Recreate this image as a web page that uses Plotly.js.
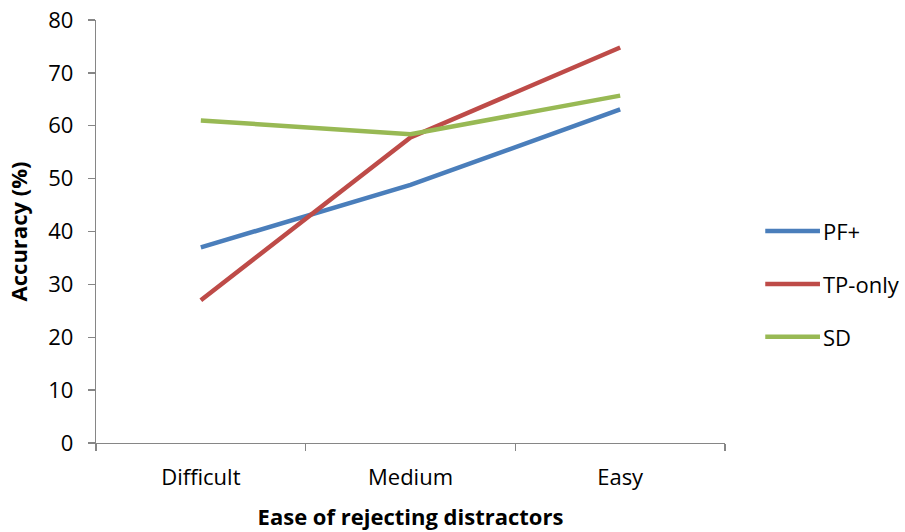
<!DOCTYPE html>
<html>
<head>
<meta charset="utf-8">
<script src="https://cdn.plot.ly/plotly-3.0.1.min.js"></script>
<style>html,body{margin:0;padding:0;background:#fff;}#chart{width:905px;height:532px;}</style>
</head>
<body>
<div id="chart"></div>
<script>
const categories = ["Difficult", "Medium", "Easy"];
const seriesNames = ["PF+", "TP-only", "SD"];
const pfPlus = [37.0, 48.8, 63.1];
const tpOnly = [27.0, 57.8, 74.8];
const sd = [61.0, 58.4, 65.7];
const yTicks = [0, 10, 20, 30, 40, 50, 60, 70, 80];
const colors = ["#4A7EBB", "#BE4B48", "#98B954"];

const FONT = "'Open Sans', Lato, 'Liberation Sans', sans-serif";
const FS = 22;
const values = [pfPlus, tpOnly, sd];
const traces = values.map((v, i) => ({
  type: "scatter", mode: "lines", x: categories, y: v, name: seriesNames[i],
  line: {color: colors[i], width: 4.5, shape: "linear"}
}));

// custom legend (paper coordinates, to the right of the plot)
const legY = [0.501, 0.376, 0.251];
const shapes = seriesNames.map((n, i) => ({
  type: "line", xref: "paper", yref: "paper",
  x0: 1.064, x1: 1.151, y0: legY[i], y1: legY[i],
  line: {color: colors[i], width: 4.5}
}));
const annotations = seriesNames.map((n, i) => ({
  xref: "paper", yref: "paper", x: 1.152, y: legY[i], xanchor: "left", yanchor: "middle",
  text: n, showarrow: false, font: {family: FONT, size: FS, color: "#000"}
}));

const layout = {
  width: 905, height: 532,
  margin: {l: 96, r: 180, t: 20, b: 89},
  paper_bgcolor: "#ffffff", plot_bgcolor: "#ffffff",
  font: {family: FONT, size: FS, color: "#000"},
  showlegend: false,
  shapes: shapes,
  annotations: annotations,
  xaxis: {type: "category", range: [-0.5, 2.5], showline: true, linecolor: "#868686", linewidth: 1.3,
    ticks: "outside", tickson: "boundaries", ticklen: 7, tickcolor: "#868686", tickwidth: 1.3,
    showgrid: false, zeroline: false, tickfont: {family: FONT, size: FS},
    ticklabelstandoff: 14,
    title: {text: "<b>Ease of rejecting distractors</b>", font: {family: FONT, size: FS}, standoff: 20}},
  yaxis: {range: [0, 80], tickvals: yTicks, showline: true, linecolor: "#868686", linewidth: 1.3,
    ticks: "outside", ticklen: 7, tickcolor: "#868686", tickwidth: 1.3,
    showgrid: false, zeroline: false, tickfont: {family: FONT, size: FS},
    ticklabelstandoff: 10,
    title: {text: "<b>Accuracy (%)</b>", font: {family: FONT, size: FS}, standoff: 14}}
};

Plotly.newPlot("chart", traces, layout, {displayModeBar: false, staticPlot: true});
</script>
</body>
</html>
